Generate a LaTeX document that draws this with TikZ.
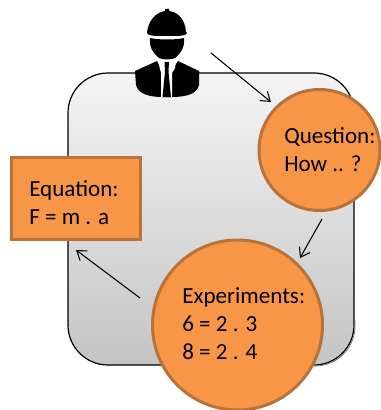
\documentclass[tikz,border=0pt]{standalone}
\usepackage{fontspec}
\setmainfont{Carlito}
\usetikzlibrary{arrows.meta}
\tikzset{
  x=0.75pt,y=-0.75pt,
  orange box/.style={draw=boxedge,fill=boxfill,line width=2.25pt,inner sep=0pt},
  label text/.style={font=\fontsize{17.3}{21}\selectfont,align=left,text=black,inner sep=0pt,anchor=west},
  flow/.style={draw=black,line width=0.8pt,-{Straight Barb[length=6.5pt,width=9pt]}},
  person/.style={fill=black,draw=none}
}
\definecolor{boxfill}{HTML}{F79646}
\definecolor{boxedge}{HTML}{B8723A}
\definecolor{paneltop}{HTML}{F4F4F4}
\definecolor{panelbottom}{HTML}{C4C4C4}
\begin{document}
\begin{tikzpicture}
\useasboundingbox (0,0) rectangle (380,410);
% panel
\path[top color=paneltop,bottom color=panelbottom,draw=black,line width=0.9pt,rounded corners=30pt]
  (68,73) rectangle (354,365);
\draw[black!55,line width=0.6pt,rounded corners=30pt] (355,320) -- (355,366) -- (310,366);
% person
\node[inner sep=0pt,minimum width=48pt,minimum height=67.5pt] (engineer) at (167,53) {};
\fill[person] (147,32) .. controls (149,18) and (158,12) .. (165,11) -- (165,9) -- (169,9) -- (169,11)
  .. controls (177,12) and (185,18) .. (186,32) -- (187,33) .. controls (186,36) and (180,36) .. (167,36)
  .. controls (154,36) and (148,36) .. (147,33) -- cycle;
\fill[person] (150,38) .. controls (158,40) and (176,40) .. (184,38) .. controls (185,48) and (180,54) .. (175,58)
  .. controls (170,60) and (164,60) .. (159,58) .. controls (154,54) and (149,48) .. (150,38) -- cycle;
\fill[person] (157,61) -- (135,71) -- (136,85) .. controls (138,94) and (150,97) .. (162,97) -- (172,97)
  .. controls (186,97) and (197,94) .. (199,85) -- (199,71) -- (178,61) -- (172,70) -- (162,70) -- cycle;
\fill[white] (158,61) -- (176,61) -- (175,68) -- (172,73) -- (172,97) -- (170.5,97) -- (168,74) -- (165,74) -- (163,97) -- (161,97) -- (161,73) -- cycle;
\fill[person] (164.5,62) -- (169,62) -- (168.5,72) -- (171,97) -- (162.5,97) -- (165,72) -- cycle;
% shapes
\node[orange box,minimum width=96.75pt,minimum height=61.5pt,anchor=north west] (equation) at (9.5,155.5) {};
\node[orange box,circle,minimum size=90.75pt] (question) at (319.5,150) {};
\node[orange box,circle,minimum size=127.5pt] (experiments) at (237.5,325) {};
% texts
\node[label text] (equationtext) at (29,203) {Equation:\\F = m . a};
\node[label text] (questiontext) at (284,150) {Question:\\How .. ?};
\node[label text] (experimentstext) at (182,324) {Experiments:\\6 = 2 . 3\\8 = 2 . 4};
% connector ends
\coordinate (a1) at (211,53);
\coordinate (a2) at (271,102);
\coordinate (b1) at (322,219);
\coordinate (b2) at (300,258);
\coordinate (c1) at (140,298);
\coordinate (c2) at (76,250);
\draw[flow] (a1) -- (a2);
\draw[flow] (b1) -- (b2);
\draw[flow] (c1) -- (c2);
\end{tikzpicture}
\end{document}
